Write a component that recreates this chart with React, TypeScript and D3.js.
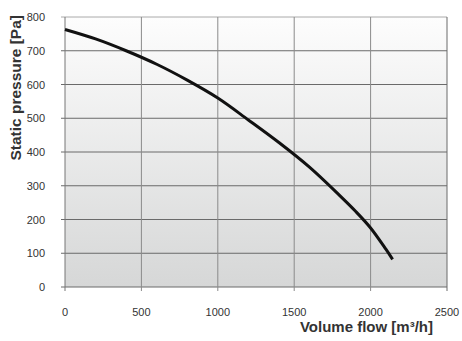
import React, { useEffect, useRef } from 'react';
import * as d3 from 'd3';

const flow = [0, 200, 400, 600, 800, 1000, 1200, 1400, 1600, 1800, 1900, 2000, 2100, 2144];
const pressure = [763, 735, 700, 660, 613, 560, 495, 428, 355, 270, 225, 175, 112, 82];
const xTicks = [0, 500, 1000, 1500, 2000, 2500];
const yTicks = [0, 100, 200, 300, 400, 500, 600, 700, 800];

const App = () => {
  const ref = useRef<SVGSVGElement>(null);

  useEffect(() => {
    const svg = d3.select(ref.current);
    svg.selectAll('*').remove();

    const left = 65, right = 447, top = 17, bottom = 287;
    const x = d3.scaleLinear().domain([0, 2500]).range([left, right]);
    const y = d3.scaleLinear().domain([0, 800]).range([bottom, top]);

    const grad = svg.append('defs').append('linearGradient')
      .attr('id', 'bg').attr('x1', 0).attr('y1', 0).attr('x2', 0).attr('y2', 1);
    grad.append('stop').attr('offset', '0%').attr('stop-color', '#fdfdfd');
    grad.append('stop').attr('offset', '100%').attr('stop-color', '#d6d7d7');

    svg.append('rect')
      .attr('x', left).attr('y', top)
      .attr('width', right - left).attr('height', bottom - top)
      .attr('fill', 'url(#bg)');

    // horizontal grid
    svg.selectAll('.hgrid')
      .data(yTicks)
      .enter()
      .append('line')
      .attr('x1', left - 4).attr('x2', right)
      .attr('y1', (d) => y(d)).attr('y2', (d) => y(d))
      .attr('stroke', (d) => (d === 800 ? '#aaaaaa' : '#6a6a6a'))
      .attr('stroke-width', 1);

    // vertical grid
    svg.selectAll('.vgrid')
      .data(xTicks)
      .enter()
      .append('line')
      .attr('x1', (d) => x(d)).attr('x2', (d) => x(d))
      .attr('y1', top).attr('y2', bottom + 4)
      .attr('stroke', (d) => (d === 0 ? '#777777' : d === 2500 ? '#6a6a6a' : '#8a8a8a'))
      .attr('stroke-width', 1);

    svg.append('path')
      .datum(flow.map((f, i) => [f, pressure[i]] as [number, number]))
      .attr('fill', 'none')
      .attr('stroke', '#111111')
      .attr('stroke-width', 3)
      .attr('d', d3.line<[number, number]>().x((d) => x(d[0])).y((d) => y(d[1])).curve(d3.curveCatmullRom));

    const font = 'Liberation Sans, Arial, sans-serif';

    svg.selectAll('.ylab')
      .data(yTicks)
      .enter()
      .append('text')
      .attr('x', 45)
      .attr('y', (d) => y(d) + 4)
      .attr('text-anchor', 'end')
      .style('font-family', font)
      .style('font-size', '11px')
      .attr('fill', '#333')
      .text((d) => d);

    svg.selectAll('.xlab')
      .data(xTicks)
      .enter()
      .append('text')
      .attr('x', (d) => x(d))
      .attr('y', 316)
      .attr('text-anchor', 'middle')
      .style('font-family', font)
      .style('font-size', '11px')
      .attr('fill', '#333')
      .text((d) => d);

    svg.append('text')
      .attr('x', 433)
      .attr('y', 332)
      .attr('text-anchor', 'end')
      .style('font-family', font)
      .style('font-size', '15px')
      .style('font-weight', 'bold')
      .attr('fill', '#333')
      .text('Volume flow [m³/h]');

    svg.append('text')
      .attr('transform', 'translate(21,15) rotate(-90)')
      .attr('text-anchor', 'end')
      .style('font-family', font)
      .style('font-size', '15.5px')
      .style('font-weight', 'bold')
      .attr('fill', '#333')
      .text('Static pressure [Pa]');
  }, []);

  return (
    <svg ref={ref} width={462} height={341} style={{ position: 'absolute', left: 0, top: 0 }} />
  );
};

export default App;
